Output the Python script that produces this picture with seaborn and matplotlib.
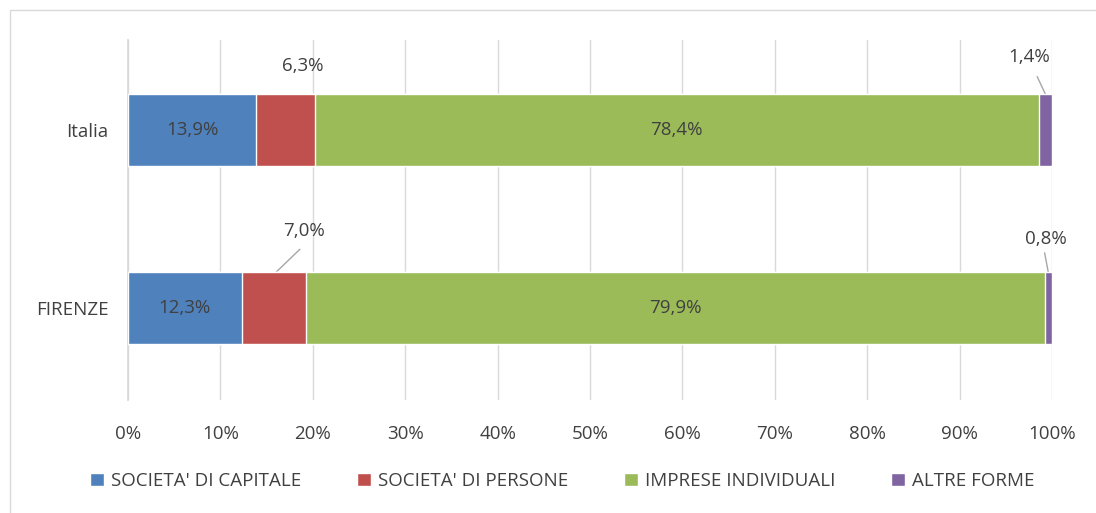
import numpy as np, matplotlib
matplotlib.use("Agg")
import matplotlib.pyplot as plt; import seaborn as sns
import pandas as pd
from matplotlib.patches import Patch, Rectangle

# ── data ──
regions = ["Italia", "FIRENZE"]
series = ["SOCIETA' DI CAPITALE", "SOCIETA' DI PERSONE", "IMPRESE INDIVIDUALI", "ALTRE FORME"]
capitale = [13.9, 12.3]
persone = [6.3, 7.0]
individuali = [78.4, 79.9]
altre = [1.4, 0.8]
colors = ["#4F81BD", "#C0504D", "#9BBB59", "#8064A2"]

vals = np.array([capitale, persone, individuali, altre])  # series x region
cum = vals.cumsum(axis=0)

sns.set_theme(style="white")
plt.rcParams['font.family'] = ['Open Sans', 'DejaVu Sans']
txt = "#404040"; fs = 13.5

fig = plt.figure(figsize=(10.96, 5.13), dpi=100)
ax = fig.add_axes([128/1096, 1-400/513, (1052-128)/1096, 360/513])

# stacked bars: draw cumulative totals from the back forward
for k in range(len(series)-1, -1, -1):
    df = pd.DataFrame({"region": regions, "val": cum[k]})
    sns.barplot(data=df, x="val", y="region", orient="h", color=colors[k],
                saturation=1, width=0.4, ax=ax, zorder=3)

ax.set_xlim(0, 100); ax.set_ylim(1.517, -0.506)
ax.set_xticks(np.arange(0, 101, 10))
ax.set_xticklabels([f"{t}%" for t in range(0, 101, 10)], fontsize=fs, color=txt)
ax.set_yticklabels(regions, fontsize=fs, color=txt)
ax.set_xlabel(""); ax.set_ylabel("")
ax.tick_params(axis="x", pad=18, length=0); ax.tick_params(axis="y", pad=14, length=0)
ax.grid(axis="x", color="#D9D9D9", lw=1, zorder=0)
for s in ["top", "right", "bottom"]: ax.spines[s].set_visible(False)
ax.spines["left"].set_color("#D9D9D9")

def fmt(v): return f"{v:.1f}%".replace(".", ",")

# inside labels
for i in range(2):
    ax.text(vals[0, i]/2, i, fmt(vals[0, i]), ha="center", va="center", fontsize=fs, color=txt, zorder=5)
    ax.text(cum[1, i] + vals[2, i]/2, i, fmt(vals[2, i]), ha="center", va="center", fontsize=fs, color=txt, zorder=5)

# outside labels (with leader lines where needed)
ax.text(18.9, -0.36, fmt(persone[0]), ha="center", va="center", fontsize=fs, color=txt)
ax.text(97.5, -0.41, fmt(altre[0]), ha="center", va="center", fontsize=fs, color=txt)
ax.plot([98.4, 99.3], [-0.30, -0.2], color="#A6A6A6", lw=1)
ax.text(19.0, 0.57, fmt(persone[1]), ha="center", va="center", fontsize=fs, color=txt)
ax.plot([18.6, 15.8], [0.67, 0.81], color="#A6A6A6", lw=1)
ax.text(99.3, 0.61, fmt(altre[1]), ha="center", va="center", fontsize=fs, color=txt)
ax.plot([99.2, 99.6], [0.69, 0.8], color="#A6A6A6", lw=1)

handles = [Patch(facecolor=c, label=l) for c, l in zip(colors, series)]
fig.legend(handles=handles, loc="center", bbox_to_anchor=(0.513, 1-481/513), ncol=4,
           frameon=False, fontsize=fs, labelcolor=txt, handlelength=0.75, handleheight=0.75,
           handletextpad=0.35, columnspacing=3.0)

fig.add_artist(Rectangle((10/1096, -0.01), 1.0, 1.01-10/513, transform=fig.transFigure,
                         fill=False, edgecolor="#D9D9D9", lw=1))

plt.savefig("out.png", dpi=100)
